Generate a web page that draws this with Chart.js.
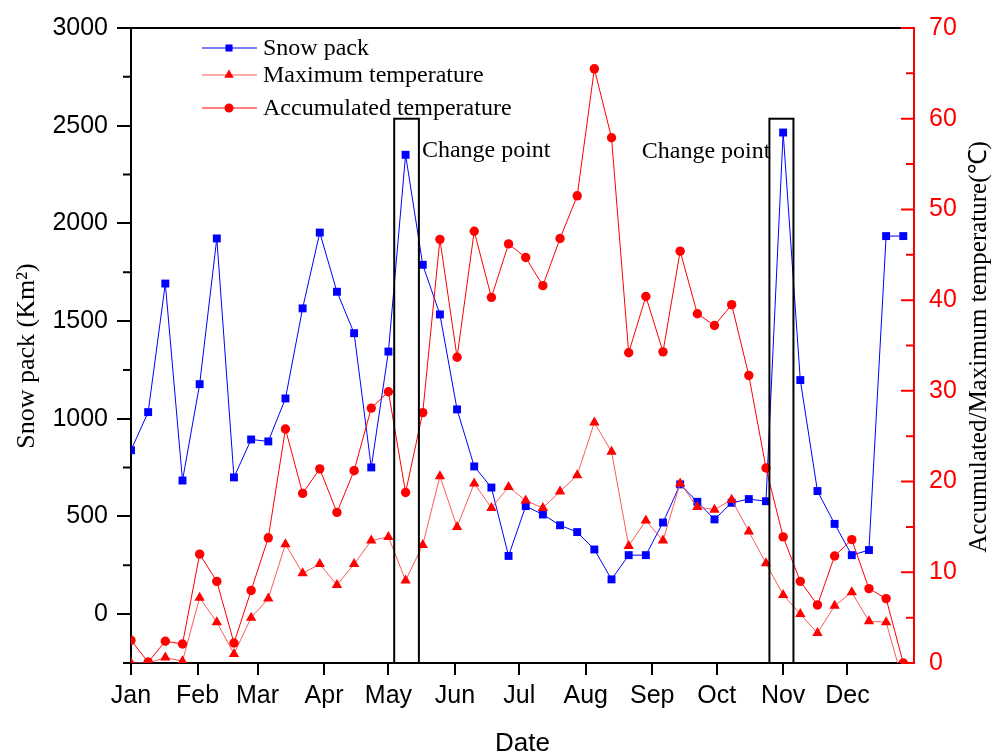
<!DOCTYPE html>
<html>
<head>
<meta charset="utf-8">
<script src="https://cdn.jsdelivr.net/npm/chart.js@4.4.1/dist/chart.umd.min.js"></script>
<style>
  html, body { margin: 0; padding: 0; background: #fff; }
  #wrap { width: 994px; height: 754px; }
</style>
</head>
<body>
<div id="wrap"><canvas id="chart" width="994" height="754"></canvas></div>
<script>
// 8-day composites, day of year counted from Jan 1 = 0
const days = [0, 8, 16, 24, 32, 40, 48, 56, 64, 72, 80, 88, 96, 104, 112, 120,
  128, 136, 144, 152, 160, 168, 176, 184, 192, 200, 208, 216, 224, 232, 240,
  248, 256, 264, 272, 280, 288, 296, 304, 312, 320, 328, 336, 344, 352, 360];

const monthStarts = [0, 31, 59, 90, 120, 151, 181, 212, 243, 273, 304, 334];
const monthNames = ['Jan', 'Feb', 'Mar', 'Apr', 'May', 'Jun', 'Jul', 'Aug', 'Sep', 'Oct', 'Nov', 'Dec'];

const snowTicks = [0, 500, 1000, 1500, 2000, 2500, 3000];
const tempTicks = [0, 10, 20, 30, 40, 50, 60, 70];

const snowPack = [839, 1034, 1692, 684, 1177, 1923, 700, 894, 884, 1104, 1565, 1953,
  1650, 1438, 751, 1344, 2351, 1788, 1534, 1048, 756, 648, 298, 553, 510, 455,
  420, 331, 178, 302, 302, 469, 664, 575, 485, 570, 589, 578, 2465, 1198, 630,
  462, 302, 328, 1935, 1935];

const maxTemp = [0, 0, 0.6, 0.2, 7.2, 4.5, 1.0, 5.0, 7.1, 13.1, 9.9, 10.9, 8.6,
  10.9, 13.5, 13.9, 9.1, 13.0, 20.6, 15.0, 19.8, 17.1, 19.4, 17.9, 17.1, 18.9,
  20.7, 26.5, 23.3, 12.9, 15.7, 13.5, 19.8, 17.2, 16.9, 18.0, 14.5, 11.0, 7.5,
  5.4, 3.3, 6.3, 7.8, 4.6, 4.5, -2.2];

const accTemp = [2.5, 0.1, 2.4, 2.1, 12.0, 9.0, 2.2, 8.0, 13.8, 25.8, 18.7, 21.4,
  16.6, 21.2, 28.1, 29.9, 18.8, 27.6, 46.7, 33.7, 47.6, 40.3, 46.2, 44.7, 41.6,
  46.8, 51.5, 65.5, 57.9, 34.2, 40.4, 34.3, 45.4, 38.5, 37.2, 39.5, 31.7, 21.5,
  13.9, 9.0, 6.4, 11.8, 13.6, 8.2, 7.1, 0];

// change point windows (day of year) and the box top on the temperature axis
const changeFrom = [122.7, 297.6];
const changeTo = [134.2, 308.8];
const changeTop = 60;

const BLUE = '#0000ff';
const RED = '#ff0000';
const PINK = '#ff5a5a';
const sans = 'Liberation Sans, Arial, sans-serif';
const serif = 'Liberation Serif, Times New Roman, serif';

const pts = vals => days.map((d, i) => ({ x: d, y: vals[i] }));

function marker(ctx, style, x, y, r, color) {
  ctx.fillStyle = color;
  ctx.beginPath();
  if (style === 'rect') {
    const s = r * Math.SQRT1_2;
    ctx.rect(x - s, y - s, 2 * s, 2 * s);
  } else if (style === 'triangle') {
    ctx.moveTo(x, y - r);
    ctx.lineTo(x + r * 0.866, y + r / 2);
    ctx.lineTo(x - r * 0.866, y + r / 2);
    ctx.closePath();
  } else {
    ctx.arc(x, y, r, 0, Math.PI * 2);
  }
  ctx.fill();
}

const decor = {
  id: 'decor',
  afterDraw(chart) {
    const ctx = chart.ctx, a = chart.chartArea;
    const xs = chart.scales.x, yL = chart.scales.ySnow, yR = chart.scales.yTemp;
    ctx.save();

    // top frame
    ctx.strokeStyle = '#000';
    ctx.lineWidth = 2;
    ctx.beginPath();
    ctx.moveTo(a.left, a.top);
    ctx.lineTo(a.right, a.top);
    ctx.stroke();

    // minor ticks on the snow axis (outward)
    ctx.beginPath();
    for (let v = -250; v < 3000; v += 500) {
      const y = yL.getPixelForValue(v);
      ctx.moveTo(a.left - 8, y);
      ctx.lineTo(a.left, y);
    }
    ctx.stroke();

    // temperature axis ticks (inward)
    ctx.strokeStyle = RED;
    ctx.beginPath();
    for (let v = 0; v <= 70; v += 5) {
      const y = yR.getPixelForValue(v);
      ctx.moveTo(a.right - (v % 10 === 0 ? 13 : 8), y);
      ctx.lineTo(a.right, y);
    }
    ctx.stroke();

    // change point boxes
    ctx.strokeStyle = '#000';
    ctx.lineWidth = 2;
    const yt = yR.getPixelForValue(changeTop);
    const boxes = changeFrom.map((f, i) => [xs.getPixelForValue(f), xs.getPixelForValue(changeTo[i])]);
    boxes.forEach(([x0, x1]) => ctx.strokeRect(x0, yt, x1 - x0, a.bottom - yt));

    ctx.fillStyle = '#000';
    ctx.font = '24px ' + serif;
    ctx.textBaseline = 'alphabetic';
    ctx.textAlign = 'left';
    ctx.fillText('Change point', boxes[0][1] + 3, yt + 38);
    ctx.textAlign = 'right';
    ctx.fillText('Change point', boxes[1][0] + 1, yt + 39);

    // legend
    const rows = [
      { label: 'Snow pack', line: BLUE, style: 'rect', r: 5, color: BLUE, y: 48 },
      { label: 'Maximum temperature', line: PINK, style: 'triangle', r: 5.5, color: RED, y: 75 },
      { label: 'Accumulated temperature', line: RED, style: 'circle', r: 4.5, color: RED, y: 108 }
    ];
    ctx.textAlign = 'left';
    ctx.textBaseline = 'middle';
    rows.forEach(row => {
      ctx.strokeStyle = row.line;
      ctx.lineWidth = 1;
      ctx.beginPath();
      ctx.moveTo(202, row.y);
      ctx.lineTo(257, row.y);
      ctx.stroke();
      marker(ctx, row.style, 229, row.y, row.r, row.color);
      ctx.fillStyle = '#000';
      ctx.fillText(row.label, 263, row.y + 1);
    });

    // axis titles
    ctx.fillStyle = '#000';
    ctx.textAlign = 'center';
    ctx.textBaseline = 'middle';
    ctx.font = '26px ' + serif;
    ctx.save();
    ctx.translate(27, 356);
    ctx.rotate(-Math.PI / 2);
    ctx.fillText('Snow pack (Km²)', 0, 0);
    ctx.restore();

    ctx.font = '25px ' + serif;
    ctx.save();
    ctx.translate(979, 347);
    ctx.rotate(-Math.PI / 2);
    ctx.fillText('Accumulated/Maximum temperature(℃)', 0, 0);
    ctx.restore();

    ctx.font = '26px ' + sans;
    ctx.textBaseline = 'alphabetic';
    ctx.fillText('Date', (a.left + a.right) / 2, 751);

    ctx.restore();
  }
};

new Chart(document.getElementById('chart'), {
  type: 'line',
  data: {
    datasets: [
      {
        label: 'Accumulated temperature',
        data: pts(accTemp),
        yAxisID: 'yTemp',
        borderColor: RED,
        backgroundColor: RED,
        borderWidth: 1,
        pointStyle: 'circle',
        pointRadius: 4.7,
        pointBorderWidth: 0,
        order: 0
      },
      {
        label: 'Maximum temperature',
        data: pts(maxTemp),
        yAxisID: 'yTemp',
        borderColor: PINK,
        backgroundColor: RED,
        borderWidth: 1,
        pointStyle: 'triangle',
        pointRadius: 6,
        pointBorderWidth: 0,
        order: 1
      },
      {
        label: 'Snow pack',
        data: pts(snowPack),
        yAxisID: 'ySnow',
        borderColor: BLUE,
        backgroundColor: BLUE,
        borderWidth: 1,
        pointStyle: 'rect',
        pointRadius: 5.6,
        pointBorderWidth: 0,
        order: 2
      }
    ]
  },
  options: {
    responsive: false,
    animation: false,
    devicePixelRatio: 1,
    layout: { padding: { top: 28, left: 0, right: 0, bottom: 0 } },
    plugins: { legend: { display: false }, tooltip: { enabled: false } },
    scales: {
      x: {
        type: 'linear',
        min: 0,
        max: 365,
        afterBuildTicks: s => { s.ticks = monthStarts.map(v => ({ value: v })); },
        afterFit: s => { s.height = 91; },
        ticks: {
          callback: (v, i) => monthNames[i],
          font: { family: sans, size: 25 },
          color: '#000',
          padding: 6,
          maxRotation: 0,
          autoSkip: false
        },
        grid: { drawOnChartArea: false, tickLength: 12, color: '#000', lineWidth: 2 },
        border: { color: '#000', width: 2 }
      },
      ySnow: {
        type: 'linear',
        position: 'left',
        min: -250,
        max: 3000,
        afterBuildTicks: s => { s.ticks = snowTicks.map(v => ({ value: v })); },
        afterFit: s => { s.width = 131; },
        ticks: { callback: v => String(v), font: { family: sans, size: 25 }, color: '#000', padding: 9 },
        grid: { drawOnChartArea: false, tickLength: 14, color: '#000', lineWidth: 2 },
        border: { color: '#000', width: 2 }
      },
      yTemp: {
        type: 'linear',
        position: 'right',
        min: 0,
        max: 70,
        afterBuildTicks: s => { s.ticks = tempTicks.map(v => ({ value: v })); },
        afterFit: s => { s.width = 80; },
        ticks: { callback: v => String(v), font: { family: sans, size: 25 }, color: RED, padding: 7 },
        grid: { display: false },
        border: { display: true, color: RED, width: 2 }
      }
    }
  },
  plugins: [decor]
});
</script>
</body>
</html>
